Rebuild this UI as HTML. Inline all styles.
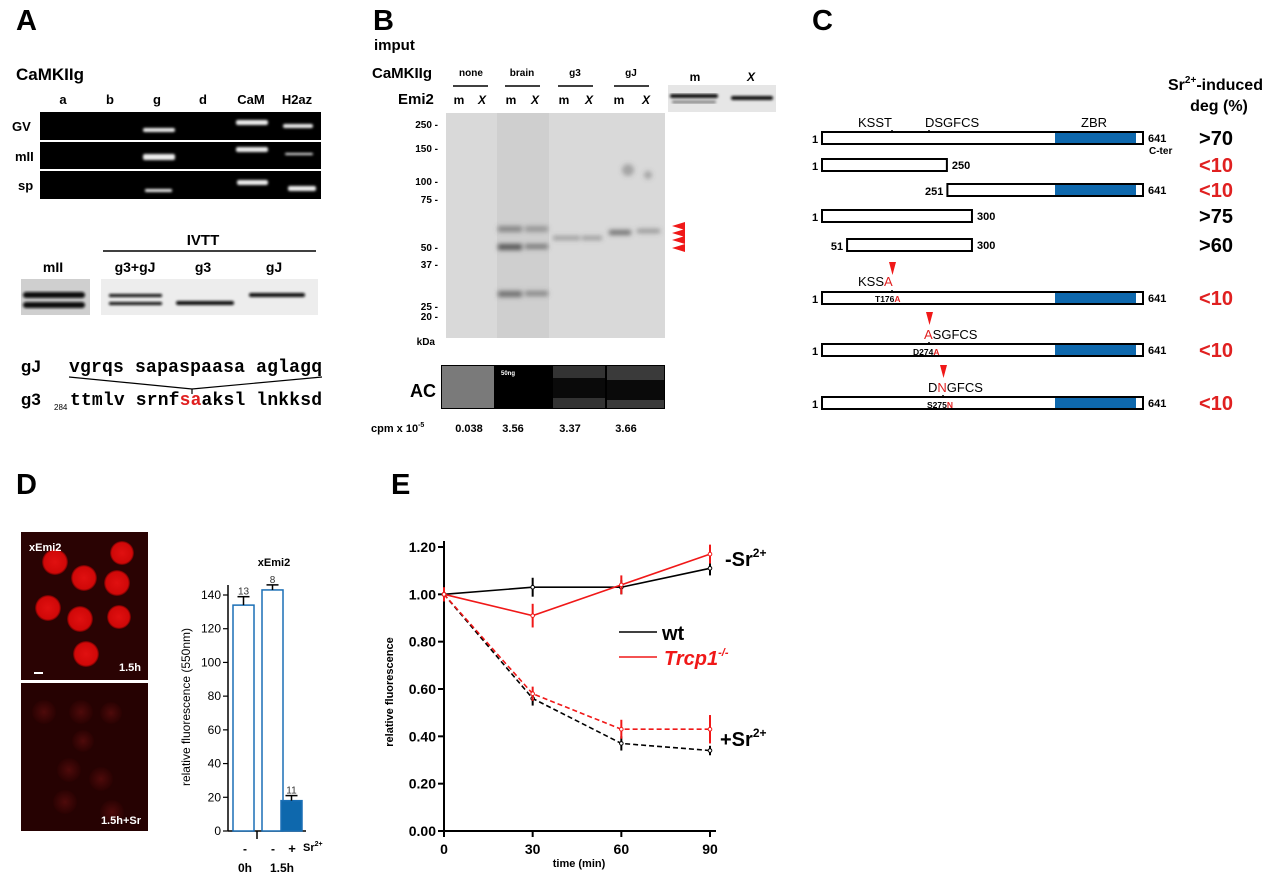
<!DOCTYPE html>
<html><head><meta charset="utf-8">
<style>
html,body{margin:0;padding:0;background:#fff;}
svg{display:block;font-family:"Liberation Sans",Arial,sans-serif;}
.b{font-weight:bold;}
.mono{font-family:"Liberation Mono","Courier New",monospace;}
</style></head>
<body>
<svg id="fig" width="1280" height="880" viewBox="0 0 1280 880" xmlns="http://www.w3.org/2000/svg">
<defs>
<filter id="blur1"><feGaussianBlur stdDeviation="1.2"/></filter>
<filter id="blur2"><feGaussianBlur stdDeviation="2.5"/></filter>
<radialGradient id="egg" cx="0.5" cy="0.5" r="0.5"><stop offset="0" stop-color="#e01010"/><stop offset="0.85" stop-color="#d00808"/><stop offset="1" stop-color="#5a0000"/></radialGradient>
<radialGradient id="egg2" cx="0.5" cy="0.5" r="0.5"><stop offset="0" stop-color="#4e0a0a"/><stop offset="1" stop-color="#2a0202"/></radialGradient>
</defs>

<!-- ========== PANEL A ========== -->
<g>
<text x="16" y="30" font-size="29" class="b">A</text>
<text x="16" y="80" font-size="17" class="b">CaMKIIg</text>
<g font-size="13" class="b" text-anchor="middle">
<text x="63" y="104">a</text><text x="110" y="104">b</text><text x="157" y="104">g</text><text x="203" y="104">d</text><text x="251" y="104">CaM</text><text x="297" y="104">H2az</text>
</g>
<g>
<rect x="40" y="112" width="281" height="28" fill="#000"/>
<rect x="40" y="142" width="281" height="27" fill="#000"/>
<rect x="40" y="171" width="281" height="28" fill="#000"/>
<g fill="#eee" filter="url(#blur1)">
<rect x="143" y="128" width="32" height="4" rx="2"/><rect x="236" y="120" width="32" height="5" rx="2"/><rect x="283" y="124" width="30" height="4" rx="2"/>
<rect x="143" y="154" width="32" height="6" rx="2"/><rect x="236" y="147" width="32" height="5" rx="2"/><rect x="285" y="153" width="28" height="2" rx="1"/>
<rect x="145" y="189" width="27" height="3" rx="1"/><rect x="237" y="180" width="31" height="5" rx="2"/><rect x="288" y="186" width="28" height="5" rx="2"/>
</g>
</g>
<g font-size="13" class="b">
<text x="12" y="131">GV</text><text x="15" y="161">mII</text><text x="18" y="190">sp</text>
</g>
<text x="203" y="245" font-size="15" class="b" text-anchor="middle">IVTT</text>
<line x1="103" y1="251" x2="316" y2="251" stroke="#000" stroke-width="1.5"/>
<g font-size="14" class="b" text-anchor="middle">
<text x="53" y="272">mII</text><text x="135" y="272">g3+gJ</text><text x="203" y="272">g3</text><text x="274" y="272">gJ</text>
</g>
<g>
<rect x="21" y="279" width="69" height="36" fill="#cfcfcf"/>
<rect x="101" y="279" width="217" height="36" fill="#ededed"/>
<g fill="#111" filter="url(#blur1)">
<rect x="23" y="292" width="62" height="6" rx="3"/><rect x="23" y="302" width="62" height="6" rx="3"/>
<rect x="109" y="294" width="53" height="3" rx="1"/><rect x="109" y="302" width="53" height="3" rx="1"/>
<rect x="176" y="301" width="58" height="4" rx="2"/><rect x="249" y="293" width="56" height="4" rx="2"/>
</g>
</g>
<g>
<text x="21" y="372" font-size="17" class="b">gJ</text>
<text x="21" y="405" font-size="17" class="b">g3</text>
<text x="69" y="372" font-size="18" class="mono b" textLength="253">vgrqs sapaspaasa aglagq</text>
<polyline points="69,377 192,389 322,377" fill="none" stroke="#000" stroke-width="1.2"/>
<line x1="192" y1="389" x2="192" y2="394" stroke="#000" stroke-width="1.2"/>
<text x="54" y="410" font-size="8">284</text>
<text x="70" y="405" font-size="18" class="mono b" textLength="252">ttmlv srnf<tspan fill="#e02020">sa</tspan>aksl lnkksd</text>
</g>
</g>

<!-- ========== PANEL B ========== -->
<g>
<text x="373" y="30" font-size="29" class="b">B</text>
<text x="374" y="50" font-size="15" class="b">imput</text>
<text x="372" y="78" font-size="15" class="b">CaMKIIg</text>
<text x="398" y="104" font-size="15" class="b">Emi2</text>
<g font-size="10" class="b" text-anchor="middle">
<text x="471" y="76">none</text><text x="522" y="76">brain</text><text x="575" y="76">g3</text><text x="631" y="76">gJ</text>
</g>
<g stroke="#000" stroke-width="1.5">
<line x1="453" y1="86" x2="488" y2="86"/><line x1="505" y1="86" x2="540" y2="86"/><line x1="558" y1="86" x2="593" y2="86"/><line x1="614" y1="86" x2="649" y2="86"/>
</g>
<g font-size="12" class="b" text-anchor="middle">
<text x="459" y="104">m</text><text x="482" y="104" font-style="italic">X</text>
<text x="511" y="104">m</text><text x="535" y="104" font-style="italic">X</text>
<text x="564" y="104">m</text><text x="589" y="104" font-style="italic">X</text>
<text x="619" y="104">m</text><text x="646" y="104" font-style="italic">X</text>
<text x="695" y="81">m</text><text x="751" y="81" font-style="italic">X</text>
</g>
<g>
<rect x="668" y="85" width="108" height="27" fill="#e6e6e6"/>
<g fill="#111" filter="url(#blur1)"><rect x="670" y="94" width="48" height="4" rx="2"/><rect x="672" y="101" width="44" height="2" rx="1" opacity="0.6"/><rect x="731" y="96" width="42" height="4" rx="2"/></g>
</g>
<g>
<rect x="446" y="113" width="219" height="225" fill="#d9d9d9"/>
<rect x="497" y="113" width="52" height="225" fill="#cfcfcf"/>
<g fill="#555" filter="url(#blur2)">
<rect x="498" y="226" width="24" height="6" opacity="0.6"/><rect x="525" y="226" width="23" height="6" opacity="0.45"/>
<rect x="498" y="244" width="24" height="6"/><rect x="525" y="244" width="23" height="5" opacity="0.7"/>
<rect x="498" y="291" width="24" height="6" opacity="0.8"/><rect x="525" y="291" width="23" height="5" opacity="0.6"/>
<rect x="553" y="236" width="27" height="4" opacity="0.5"/><rect x="582" y="236" width="20" height="4" opacity="0.5"/>
<rect x="609" y="230" width="22" height="5" opacity="0.8"/><rect x="637" y="229" width="23" height="4" opacity="0.55"/>
<circle cx="628" cy="170" r="6" opacity="0.4"/><circle cx="648" cy="175" r="4" opacity="0.4"/>
</g>
</g>
<g font-size="10" class="b" text-anchor="end">
<text x="438" y="128">250 -</text><text x="438" y="152">150 -</text><text x="438" y="185">100 -</text><text x="438" y="203">75 -</text><text x="438" y="251">50 -</text><text x="438" y="268">37 -</text><text x="438" y="310">25 -</text><text x="438" y="320">20 -</text><text x="435" y="345">kDa</text>
</g>
<g fill="#f01818">
<polygon points="672,226 685,222 685,230"/><polygon points="672,233 685,229 685,237"/><polygon points="672,240 685,236 685,244"/><polygon points="672,248 685,244 685,252"/>
</g>
<text x="410" y="397" font-size="18" class="b">AC</text>
<g>
<rect x="441" y="365" width="224" height="44" fill="#000"/>
<rect x="442" y="366" width="52" height="42" fill="#7a7a7a"/>
<rect x="553" y="366" width="52" height="42" fill="#333"/><rect x="553" y="378" width="52" height="20" fill="#0a0a0a"/>
<rect x="607" y="366" width="57" height="42" fill="#3a3a3a"/><rect x="607" y="380" width="57" height="20" fill="#0a0a0a"/>
<text x="501" y="375" font-size="6" fill="#fff" class="b">50ng</text>
</g>
<text x="371" y="432" font-size="11" class="b">cpm x 10<tspan font-size="7" dy="-5">-5</tspan></text>
<g font-size="11" class="b" text-anchor="middle">
<text x="469" y="432">0.038</text><text x="513" y="432">3.56</text><text x="570" y="432">3.37</text><text x="626" y="432">3.66</text>
</g>
</g>

<!-- ========== PANEL C ========== -->
<g>
<text x="812" y="30" font-size="29" class="b">C</text>
<text x="1168" y="90" font-size="16" class="b">Sr<tspan font-size="10" dy="-7">2+</tspan><tspan dy="7">-induced</tspan></text>
<text x="1219" y="111" font-size="16" class="b" text-anchor="middle">deg (%)</text>
<g font-size="13">
<text x="858" y="127">KSST</text><text x="925" y="127">DSGFCS</text><text x="1081" y="127">ZBR</text>
</g>
<g id="constructs"></g>
<g fill="#f01818">
<polygon points="889,262 896,262 892.5,275"/><polygon points="926,312 933,312 929.5,325"/><polygon points="940,365 947,365 943.5,378"/>
</g>
<g font-size="13">
<text x="858" y="286">KSS<tspan fill="#e02020">A</tspan></text>
<text x="924" y="339"><tspan fill="#e02020">A</tspan>SGFCS</text>
<text x="928" y="392">D<tspan fill="#e02020">N</tspan>GFCS</text>
</g>
<g font-size="8.5" class="b">
<text x="875" y="302">T176<tspan fill="#e02020">A</tspan></text>
<text x="913" y="355">D274<tspan fill="#e02020">A</tspan></text>
<text x="927" y="408">S275<tspan fill="#e02020">N</tspan></text>
</g>
<text x="1149" y="154" font-size="10" class="b">C-ter</text>
</g>

<!-- ========== PANEL D ========== -->
<g>
<text x="16" y="494" font-size="29" class="b">D</text>
<g>
<rect x="21" y="532" width="127" height="148" fill="#2a0303"/>
<g fill="url(#egg)">
<circle cx="55" cy="562" r="13"/><circle cx="122" cy="553" r="12"/><circle cx="84" cy="578" r="13"/><circle cx="117" cy="583" r="13"/><circle cx="48" cy="608" r="13"/><circle cx="80" cy="619" r="13"/><circle cx="119" cy="617" r="12"/><circle cx="86" cy="654" r="13"/>
</g>
<text x="29" y="551" font-size="11" class="b" fill="#fff">xEmi2</text>
<text x="141" y="671" font-size="11" class="b" fill="#fff" text-anchor="end">1.5h</text>
<rect x="34" y="672" width="9" height="2" fill="#fff"/>
</g>
<g>
<rect x="21" y="683" width="127" height="148" fill="#260202"/>
<g fill="url(#egg2)">
<circle cx="44" cy="712" r="12"/><circle cx="81" cy="712" r="12"/><circle cx="111" cy="713" r="11"/><circle cx="83" cy="741" r="11"/><circle cx="69" cy="770" r="12"/><circle cx="101" cy="779" r="12"/><circle cx="65" cy="802" r="12"/><circle cx="112" cy="812" r="12"/>
</g>
<text x="141" y="824" font-size="11" class="b" fill="#fff" text-anchor="end">1.5h+Sr</text>
</g>
<g id="barchart"></g>
</g>

<!-- ========== PANEL E ========== -->
<g>
<text x="391" y="494" font-size="29" class="b">E</text>
<g id="linechart"></g>
</g>
</svg>

<script>
const NS = "http://www.w3.org/2000/svg";
function mk(parent, tag, attrs, txt) {
  const e = document.createElementNS(NS, tag);
  for (const k in attrs) e.setAttribute(k, attrs[k]);
  if (txt !== undefined) e.textContent = txt;
  parent.appendChild(e);
  return e;
}

/* ---- Panel C constructs ---- */
const cStart = [1, 1, 251, 1, 51, 1, 1, 1];
const cEnd = [641, 250, 641, 300, 300, 641, 641, 641];
const cDeg = [">70", "<10", "<10", ">75", ">60", "<10", "<10", "<10"];
const cRowY = [138, 165, 190, 216, 245, 298, 350, 403];
const cons = document.getElementById('constructs');
const aa = v => 822 + (v - 1) / 640 * 321;
cStart.forEach((s, i) => {
  const e = cEnd[i], y = cRowY[i];
  const g = mk(cons, 'g', {});
  
  
  mk(g, 'rect', {x: aa(s), y: y - 6, width: aa(e) - aa(s), height: 12, fill: '#fff', stroke: '#000', 'stroke-width': 2});
  if (e === 641) mk(g, 'rect', {x: 1055, y: y - 5, width: 81, height: 10, fill: '#0e68ad'});
  if (s === 1) mk(g, 'text', {x: 812, y: y + 5, 'font-size': 11, 'font-weight': 'bold'}, '1');
  else mk(g, 'text', {x: aa(s) - 4, y: y + 5, 'font-size': 11, 'font-weight': 'bold', 'text-anchor': 'end'}, String(s));
  mk(g, 'text', {x: aa(e) + 5, y: y + 4, 'font-size': 11, 'font-weight': 'bold'}, String(e));
  mk(g, 'text', {x: 1216, y: y + 7, 'font-size': 20, 'font-weight': 'bold', 'text-anchor': 'middle', fill: cDeg[i][0] === '<' ? '#e02020' : '#000'}, cDeg[i]);
});
[[892,132],[929,132],[892,292],[929,344],[943,397]].forEach(p => mk(cons,'line',{x1:p[0],y1:p[1]-2,x2:p[0],y2:p[1]+1,stroke:'#000','stroke-width':1.5}));

/* ---- Panel D bar chart ---- */
const barCats = ["0h -", "1.5h -", "1.5h +"];
const barVals = [134, 143, 18];
const barErr = [5, 3, 3];
const barN = ["13", "8", "11"];
const barTicks = [0, 20, 40, 60, 80, 100, 120, 140];
const bc = document.getElementById('barchart');
const by = v => 831 - v / 140 * 236;
const bx0 = [233, 262, 281];
mk(bc, 'line', {x1: 228, y1: 585, x2: 228, y2: 831, stroke: '#000', 'stroke-width': 1.5});
mk(bc, 'line', {x1: 228, y1: 831, x2: 306, y2: 831, stroke: '#000', 'stroke-width': 1.5});
mk(bc, 'line', {x1: 257, y1: 831, x2: 257, y2: 839, stroke: '#000', 'stroke-width': 1.5});
barTicks.forEach(t => {
  mk(bc, 'line', {x1: 223, y1: by(t), x2: 228, y2: by(t), stroke: '#000', 'stroke-width': 1.2});
  const tl = mk(bc, 'text', {x: 221, y: by(t) + 4, 'font-size': 12, 'text-anchor': 'end'}, String(t));
  
  
});
barVals.forEach((v, i) => {
  const x = bx0[i], w = 21;
  const r = mk(bc, 'rect', {x: x, y: by(v), width: w, height: 831 - by(v), fill: i === 2 ? '#0e68ad' : '#fff', stroke: '#1a6fb5', 'stroke-width': 1.5});
  
  
  const cx = x + w / 2;
  mk(bc, 'line', {x1: cx, y1: by(v), x2: cx, y2: by(v + barErr[i]), stroke: '#000', 'stroke-width': 1.5});
  mk(bc, 'line', {x1: cx - 6, y1: by(v + barErr[i]), x2: cx + 6, y2: by(v + barErr[i]), stroke: '#000', 'stroke-width': 1.5});
  mk(bc, 'text', {x: cx, y: by(v + barErr[i]) - 2, 'font-size': 10, 'text-anchor': 'middle', fill: '#333'}, barN[i]);
});
mk(bc, 'text', {x: 274, y: 566, 'font-size': 11, 'font-weight': 'bold', 'text-anchor': 'middle'}, 'xEmi2');
mk(bc, 'text', {x: 190, y: 707, 'font-size': 12, 'text-anchor': 'middle', transform: 'rotate(-90 190 707)'}, 'relative fluorescence  (550nm)');
mk(bc, 'text', {x: 245, y: 853, 'font-size': 12, 'font-weight': 'bold', 'text-anchor': 'middle'}, '-');
mk(bc, 'text', {x: 273, y: 853, 'font-size': 12, 'font-weight': 'bold', 'text-anchor': 'middle'}, '-');
mk(bc, 'text', {x: 292, y: 853, 'font-size': 13, 'font-weight': 'bold', 'text-anchor': 'middle'}, '+');
const srl = mk(bc, 'text', {x: 303, y: 851, 'font-size': 11, 'font-weight': 'bold'}, 'Sr');
mk(srl, 'tspan', {'font-size': 7, dy: -5}, '2+');
mk(bc, 'text', {x: 245, y: 872, 'font-size': 12, 'font-weight': 'bold', 'text-anchor': 'middle'}, '0h');
mk(bc, 'text', {x: 282, y: 872, 'font-size': 12, 'font-weight': 'bold', 'text-anchor': 'middle'}, '1.5h');

/* ---- Panel E line chart ---- */
const times = [0, 30, 60, 90];
const xTicks = [0, 30, 60, 90];
const yTicks = [0, 0.2, 0.4, 0.6, 0.8, 1.0, 1.2];
const wtNoSr = [1.00, 1.03, 1.03, 1.11];
const wtNoSrErr = [0.03, 0.04, 0.03, 0.03];
const koNoSr = [1.00, 0.91, 1.04, 1.17];
const koNoSrErr = [0.02, 0.05, 0.04, 0.04];
const wtSr = [1.00, 0.56, 0.37, 0.34];
const wtSrErr = [0.03, 0.03, 0.03, 0.02];
const koSr = [1.00, 0.58, 0.43, 0.43];
const koSrErr = [0.03, 0.03, 0.04, 0.06];
const lc = document.getElementById('linechart');
const ex = t => 444 + t / 90 * 266;
const ey = v => 831 - v / 1.2 * 284;
mk(lc, 'line', {x1: 444, y1: 541, x2: 444, y2: 831, stroke: '#000', 'stroke-width': 2});
mk(lc, 'line', {x1: 444, y1: 831, x2: 716, y2: 831, stroke: '#000', 'stroke-width': 2});
yTicks.forEach(t => {
  mk(lc, 'line', {x1: 438, y1: ey(t), x2: 444, y2: ey(t), stroke: '#000', 'stroke-width': 2});
  const tl = mk(lc, 'text', {x: 436, y: ey(t) + 5, 'font-size': 14, 'font-weight': 'bold', 'text-anchor': 'end'}, t.toFixed(2));
  
  
});
xTicks.forEach(t => {
  mk(lc, 'line', {x1: ex(t), y1: 831, x2: ex(t), y2: 837, stroke: '#000', 'stroke-width': 2});
  const tl = mk(lc, 'text', {x: ex(t), y: 854, 'font-size': 14, 'font-weight': 'bold', 'text-anchor': 'middle'}, String(t));
  
  
});
mk(lc, 'text', {x: 579, y: 867, 'font-size': 11, 'font-weight': 'bold', 'text-anchor': 'middle'}, 'time (min)');
mk(lc, 'text', {x: 393, y: 692, 'font-size': 11, 'font-weight': 'bold', 'text-anchor': 'middle', transform: 'rotate(-90 393 692)'}, 'relative fluorescence');
function series(vals, errs, color, dashed, name) {
  const g = mk(lc, 'g', {});
  
  
  const pts = vals.map((v, i) => ex(times[i]) + ',' + ey(v)).join(' ');
  const a = {points: pts, fill: 'none', stroke: color, 'stroke-width': 1.6};
  if (dashed) a['stroke-dasharray'] = '5,3';
  mk(g, 'polyline', a);
  vals.forEach((v, i) => {
    const x = ex(times[i]);
    mk(g, 'line', {x1: x, y1: ey(v - errs[i]), x2: x, y2: ey(v + errs[i]), stroke: color, 'stroke-width': 2});
    mk(g, 'circle', {cx: x, cy: ey(v), r: 1.8, fill: '#fff', stroke: color, 'stroke-width': 1});
  });
}
series(wtNoSr, wtNoSrErr, '#000', false, 'series-wt-no-sr');
series(wtSr, wtSrErr, '#000', true, 'series-wt-sr');
series(koNoSr, koNoSrErr, '#f01818', false, 'series-trcp1-no-sr');
series(koSr, koSrErr, '#f01818', true, 'series-trcp1-sr');
const lg = mk(lc, 'g', {});


mk(lg, 'line', {x1: 619, y1: 632, x2: 657, y2: 632, stroke: '#000', 'stroke-width': 1.6});
mk(lg, 'text', {x: 662, y: 640, 'font-size': 20, 'font-weight': 'bold'}, 'wt');
mk(lg, 'line', {x1: 619, y1: 657, x2: 657, y2: 657, stroke: '#f01818', 'stroke-width': 1.6});
const tr = mk(lg, 'text', {x: 664, y: 665, 'font-size': 20, 'font-weight': 'bold', 'font-style': 'italic', fill: '#f01818'}, 'Trcp1');
mk(tr, 'tspan', {'font-size': 11, dy: -9}, '-/-');
const s1 = mk(lc, 'text', {x: 725, y: 566, 'font-size': 20, 'font-weight': 'bold'}, '-Sr');
mk(s1, 'tspan', {'font-size': 12, dy: -9}, '2+');
const s2 = mk(lc, 'text', {x: 720, y: 746, 'font-size': 20, 'font-weight': 'bold'}, '+Sr');
mk(s2, 'tspan', {'font-size': 12, dy: -9}, '2+');
</script>
</body></html>
